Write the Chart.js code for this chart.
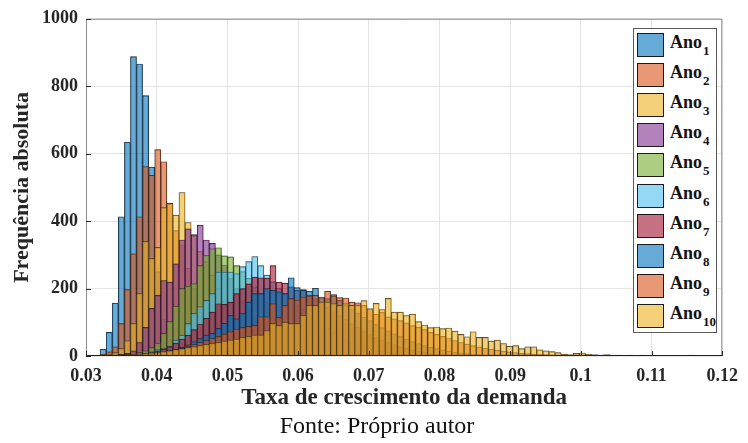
<!DOCTYPE html>
<html>
<head>
<meta charset="utf-8">
<script src="https://cdn.jsdelivr.net/npm/chart.js@4.4.1/dist/chart.umd.min.js"></script>
<style>
  body { margin: 0; background: #fff; }
  #wrap { position: relative; width: 748px; height: 443px; }
  #legend {
    position: absolute; left: 633px; top: 28px; width: 84px; height: 305px;
    box-sizing: border-box; border: 1px solid #5a5a5a; background: #fff;
    font-family: "Liberation Serif", serif; font-weight: bold; color: #111;
  }
  .item { position: absolute; left: 3px; height: 24px; width: 78px; }
  .sw { position: absolute; left: 0; top: 0; width: 27px; height: 24px; box-sizing: border-box; border: 1px solid #1a1a1a; }
  .lab { position: absolute; left: 33px; top: 0; font-size: 18px; line-height: 18px; white-space: nowrap; }
  .lab sub { font-size: 13px; vertical-align: -7px; line-height: 0; margin-left: 1px; }
  #caption {
    position: absolute; left: 0; width: 754px; top: 411px; text-align: center;
    font-family: "Liberation Serif", serif; font-size: 24px; line-height: 28px; color: #111;
  }
</style>
</head>
<body>
<div id="wrap">
  <canvas id="chart" width="748" height="443"></canvas>
  <div id="legend"></div>
  <div id="caption">Fonte: Próprio autor</div>
</div>
<script>
// histogram bins (same edges for every year)
const binStart = 0.032;
const binWidth = 0.000858;

// counts per bin
const ano1 = [20,70,157,413,634,888,866,772,560,250,110,50,20,8,3,1];
const ano2 = [5,12,27,96,197,303,413,562,536,612,576,453,372,330,260,200,140,95,60,38,22,12,6,3,1];
const ano3 = [2,5,10,22,45,96,185,340,289,322,440,452,418,485,396,357,310,280,240,200,160,125,95,70,50,35,24,15,10,6,3,2,1];
const ano4 = [1,2,3,5,8,15,40,85,141,180,224,219,273,344,377,360,388,344,334,300,270,230,200,165,135,110,85,65,48,35,25,17,11,7,4,2,1];
const ano5 = [1,2,3,4,5,6,10,15,25,38,67,102,148,200,207,214,268,298,318,321,297,294,268,250,230,205,185,160,140,120,100,82,66,52,40,30,22,15,10,6,4,2,1];
const ano6 = [0,1,1,2,2,3,5,8,12,18,22,27,47,62,96,126,146,165,185,249,249,249,244,265,280,295,268,240,220,200,185,170,152,138,122,108,95,82,70,60,50,42,35,28,22,18,14,10,8,6,4,3,2,1];
const ano7 = [1,1,2,3,4,5,6,8,10,15,20,28,38,50,62,78,95,112,130,155,153,160,185,200,214,234,232,231,268,219,216,205,195,197,180,170,158,145,132,120,108,96,85,75,65,56,48,41,34,28,23,18,14,11,8,6,4,3,2,1];
const ano8 = [0,0,1,1,2,3,4,5,7,9,12,16,20,26,33,42,52,62,67,82,97,120,110,126,160,185,185,200,195,190,185,232,203,195,192,201,173,170,182,165,150,140,128,115,105,94,84,75,66,58,50,43,37,31,26,22,18,14,11,9,7,5,4,3,2,1];
const ano9 = [0,0,1,1,2,2,3,4,5,7,10,13,18,22,28,34,40,46,52,58,65,72,80,85,88,91,116,116,155,114,150,170,166,175,178,180,175,192,178,173,172,160,158,150,140,124,130,116,110,105,98,90,85,78,70,64,58,52,46,40,35,31,27,23,20,17,14,12,10,8,7,6,5,4,3,3,2,2,2,1];
const ano10 = [1,2,2,3,4,5,6,8,9,11,14,15,19,21,25,27,31,34,37,40,44,47,50,55,58,62,62,75,96,90,100,96,96,120,150,150,160,160,155,150,155,150,151,164,140,156,138,171,130,130,120,124,102,92,84,86,81,83,74,64,57,72,55,55,44,47,37,29,31,22,27,27,18,15,13,10,6,4,8,9,5,4,3,4,3,3,2,3,2,3,2,2,1,2,2,1,1,3,1,2];

const series = [ano1, ano2, ano3, ano4, ano5, ano6, ano7, ano8, ano9, ano10];
const labels = ['1','2','3','4','5','6','7','8','9','10'];

// matlab default colour order, face alpha 0.6
const colors = [
  'rgba(0,114,189,0.6)', 'rgba(217,83,25,0.6)', 'rgba(237,177,32,0.6)',
  'rgba(126,47,142,0.6)', 'rgba(119,172,48,0.6)', 'rgba(77,190,238,0.6)',
  'rgba(162,20,47,0.6)', 'rgba(0,114,189,0.6)', 'rgba(217,83,25,0.6)',
  'rgba(237,177,32,0.6)'
];

const serif = 'Liberation Serif';

const datasets = series.map((counts, k) => ({
  label: 'Ano' + labels[k],
  data: counts.map((c, i) => ({ x: binStart + binWidth * (i + 0.5), y: c })).filter(p => p.y > 0),
  backgroundColor: colors[k],
  borderColor: 'rgba(25,25,25,0.9)',
  borderWidth: 0.5,
  borderSkipped: false,
  barPercentage: 1,
  categoryPercentage: 1,
  grouped: false,
  order: 10 - k
}));

// axes box and inward tick marks like matlab
const frame = {
  id: 'frame',
  afterDatasetsDraw(chart) {
    const { ctx, chartArea: a, scales: { x, y } } = chart;
    ctx.save();
    ctx.lineWidth = 1;
    ctx.strokeStyle = '#8c8c8c';
    ctx.beginPath();
    ctx.moveTo(a.left + 0.5, a.bottom);
    ctx.lineTo(a.left + 0.5, a.top + 0.5);
    ctx.lineTo(a.right - 0.5, a.top + 0.5);
    ctx.lineTo(a.right - 0.5, a.bottom);
    ctx.stroke();
    ctx.strokeStyle = '#222';
    ctx.beginPath();
    ctx.moveTo(a.left, a.bottom - 0.5);
    ctx.lineTo(a.right, a.bottom - 0.5);
    ctx.stroke();
    ctx.strokeStyle = '#262626';
    ctx.beginPath();
    y.ticks.forEach(t => {
      const py = Math.round(y.getPixelForValue(t.value)) + 0.5;
      ctx.moveTo(a.left, py);
      ctx.lineTo(a.left + 5, py);
    });
    x.ticks.forEach(t => {
      const px = Math.round(x.getPixelForValue(t.value)) + 0.5;
      ctx.moveTo(px, a.bottom);
      ctx.lineTo(px, a.bottom - 5);
    });
    ctx.stroke();
    ctx.restore();
  }
};

new Chart(document.getElementById('chart'), {
  type: 'bar',
  data: { datasets: datasets },
  options: {
    responsive: false,
    animation: false,
    devicePixelRatio: 1,
    layout: { padding: { left: 0, right: 20, top: 17, bottom: 31 } },
    plugins: {
      legend: { display: false },
      tooltip: { enabled: false }
    },
    scales: {
      x: {
        type: 'linear',
        min: 0.03,
        max: 0.12,
        offset: false,
        grid: { color: '#e4e4e4', drawTicks: false, offset: false },
        border: { display: false },
        ticks: {
          stepSize: 0.01,
          padding: 10,
          maxRotation: 0,
          autoSkip: false,
          color: '#262626',
          font: { family: serif, size: 18, weight: 'bold' },
          callback: v => String(+v.toFixed(2))
        },
        title: {
          display: true,
          text: 'Taxa de crescimento da demanda',
          color: '#262626',
          font: { family: serif, size: 23, weight: 'bold', lineHeight: 1.2 },
          padding: { top: 0, bottom: 0 }
        },
        afterFit(scale) { scale.height = 56; }
      },
      y: {
        min: 0,
        max: 1000,
        grid: { color: '#e4e4e4', drawTicks: false },
        border: { display: false },
        ticks: {
          stepSize: 200,
          padding: 8,
          color: '#262626',
          font: { family: serif, size: 18, weight: 'bold' },
          callback: v => String(v)
        },
        title: {
          display: true,
          text: 'Frequência absoluta',
          color: '#262626',
          font: { family: serif, size: 22, weight: 'bold', lineHeight: 1.2 },
          padding: { top: 9, bottom: 0 }
        },
        afterFit(scale) { scale.width = 86; }
      }
    }
  },
  plugins: [frame]
});

// legend with subscripts
const legend = document.getElementById('legend');
labels.forEach((n, k) => {
  const item = document.createElement('div');
  item.className = 'item';
  item.style.top = (4 + 30.1 * k) + 'px';
  item.innerHTML = '<div class="sw" style="background:' + colors[k] + '"></div>' +
    '<div class="lab">Ano<sub>' + n + '</sub></div>';
  legend.appendChild(item);
});
</script>
</body>
</html>
